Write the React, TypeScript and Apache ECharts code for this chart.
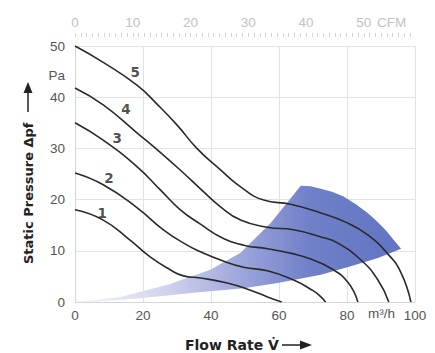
import React, { useEffect, useRef } from "react";
import * as echarts from "echarts";

// Flow rate (m³/h) vs static pressure (Pa) for fan speeds 1..5
const curve1: [number, number][] = [
  [0, 18], [8.3, 16], [16.2, 12.1], [22.1, 8.8], [28, 6.3], [31.9, 5.1], [36.9, 4.7],
  [44.8, 3.7], [51.6, 2.3], [56.6, 1], [60.8, 0],
];
const curve2: [number, number][] = [
  [0, 25.2], [8.3, 22.9], [18.3, 18.4], [26, 14.1], [33, 11.1], [36.9, 9.8], [42.8, 8.2],
  [49.6, 6.8], [56.6, 6.1], [64.3, 4.3], [69.3, 2.5], [71.7, 1.4], [73.7, 0],
];
const curve3: [number, number][] = [
  [0, 35], [8.3, 31.6], [18.3, 26.4], [25.1, 21.9], [31, 18], [36.9, 15.2], [42.8, 12.7],
  [49.6, 11.1], [56.6, 10.4], [64.3, 9.4], [69.3, 8.4], [75.2, 6.6], [80.2, 3.9], [83.2, 0],
];
const curve4: [number, number][] = [
  [0, 41.8], [8.3, 38.5], [18.3, 33], [26, 28.7], [31.9, 25.2], [36.9, 22.1], [42.8, 18.6],
  [48.7, 16], [56.6, 14.6], [64.3, 14.1], [72.3, 12.7], [77.3, 11.5], [84.1, 8.2], [89.1, 4.3], [92.3, 0],
];
const curve5: [number, number][] = [
  [0, 50], [8.3, 46.8], [18.3, 42.3], [24.2, 38.6], [30.1, 34.5], [36, 29.9], [42.8, 25.8],
  [48.7, 22.5], [55.5, 19.9], [63.4, 19.1], [72.3, 17.4], [79.6, 15.6], [86.1, 13.1], [92, 9.4],
  [95.9, 5.7], [98.8, 0],
];
const curves = [curve1, curve2, curve3, curve4, curve5];

// Curve number labels: [flow, pressure, label]
const curveLabels: [number, number, string][] = [
  [8.0, 17.4, "1"], [10.0, 24.2, "2"], [12.4, 32.0, "3"], [15.0, 37.7, "4"], [17.7, 44.9, "5"],
];

// Working range (shaded area) boundary: upper edge, arc, then lower edge back to origin
const rangeUpper: [number, number][] = [
  [0, 0], [13.3, 1], [28, 3.5], [39.8, 6.3], [48.7, 9.6], [57.5, 15.4], [66.4, 22.7],
];
const rangeArc: [number, number][] = [
  [69.3, 22.6], [72.3, 22.1], [75.8, 21.5], [79, 20.6], [82.6, 19.1], [86.1, 17.4],
  [89.1, 15.6], [91.4, 14.0], [93.5, 12.3], [95.9, 10.4],
];
const rangeLower: [number, number][] = [
  [89.1, 8.6], [81.1, 7], [72.3, 5.3], [59.6, 3.7], [49.6, 2.7], [34.8, 1.8], [20.1, 0.8], [5.3, 0],
];
const rangeBoundary = [...rangeUpper, ...rangeArc, ...rangeLower];

const xTicks = { min: 0, max: 100, interval: 20 };
const yTicks = { min: 0, max: 50, interval: 10 };
const M3H_PER_CFM = 1.699;

const NUM_FONT = "Liberation Sans";
const TITLE_FONT = "DejaVu Sans";

export default function App() {
  const ref = useRef<HTMLDivElement>(null);
  useEffect(() => {
    if (!ref.current) return;
    const chart = echarts.init(ref.current, undefined, { renderer: "svg" });
    const fill = new echarts.graphic.LinearGradient(0, 0, 1, 0, [
      { offset: 0, color: "#f6f6fc" },
      { offset: 0.25, color: "#d6d8f0" },
      { offset: 0.42, color: "#b2b8e3" },
      { offset: 0.57, color: "#8f9ad6" },
      { offset: 0.72, color: "#7080c9" },
      { offset: 1, color: "#6174c2" },
    ]);
    const lineSeries = curves.map((c, i) => ({
      type: "line",
      name: String(i + 1),
      data: c,
      smooth: 0.5,
      symbol: "none",
      z: 3,
      lineStyle: { color: "#2a2a2a", width: 1.6 },
    }));
    chart.setOption({
      animation: false,
      backgroundColor: "#ffffff",
      grid: { left: 75, right: 20, top: 46, bottom: 51 },
      xAxis: [
        {
          type: "value",
          position: "bottom",
          ...xTicks,
          axisLine: { show: true, lineStyle: { color: "#d6d6d6", width: 1 } },
          axisTick: { show: false },
          axisLabel: { color: "#555", fontSize: 13.5, fontFamily: NUM_FONT, margin: 6 },
          splitLine: { show: true, lineStyle: { color: "#e2e2e2", width: 1 } },
        },
        {
          type: "value",
          position: "top",
          offset: 9,
          min: 0,
          max: xTicks.max / M3H_PER_CFM,
          interval: 1,
          axisLine: { show: false },
          axisTick: { show: true, length: 4, lineStyle: { color: "#d4d4d4" } },
          axisLabel: {
            interval: 0,
            showMaxLabel: false,
            color: "#c2c2c2",
            fontSize: 13.5,
            fontFamily: NUM_FONT,
            margin: 8,
            formatter: (v: number) => (Math.round(v) % 10 === 0 ? String(Math.round(v)) : ""),
          },
          splitLine: { show: false },
        },
      ],
      yAxis: {
        type: "value",
        ...yTicks,
        axisLine: { show: true, lineStyle: { color: "#d6d6d6", width: 1 } },
        axisTick: { show: false },
        axisLabel: { color: "#555", fontSize: 13.5, fontFamily: NUM_FONT, margin: 10 },
        splitLine: { show: true, lineStyle: { color: "#e2e2e2", width: 1 } },
      },
      series: [
        {
          type: "custom",
          z: 1,
          silent: true,
          data: [rangeBoundary[0]],
          renderItem: (params: any, api: any) => {
            if (params.dataIndex !== 0) return null;
            const pts = rangeBoundary.map((p) => api.coord(p));
            return { type: "polygon", shape: { points: pts }, style: { fill, stroke: "none" } };
          },
        },
        ...lineSeries,
        {
          type: "scatter",
          z: 4,
          symbolSize: 1,
          itemStyle: { color: "rgba(0,0,0,0)" },
          data: curveLabels.map(([x, y, n]) => ({ value: [x, y], name: n })),
          label: {
            show: true,
            position: "inside",
            formatter: "{b}",
            color: "#222",
            fontSize: 13.5,
            fontWeight: "bold",
            fontFamily: TITLE_FONT,
          },
        },
      ],
      graphic: [
        {
          type: "text",
          x: 65,
          y: 75,
          style: { text: "Pa", fill: "#555", font: `13.5px "${NUM_FONT}"`, textAlign: "right", textVerticalAlign: "middle" },
        },
        {
          type: "text",
          x: 368,
          y: 313,
          style: { text: "m³/h", fill: "#555", font: `13.5px "${NUM_FONT}"`, textAlign: "left", textVerticalAlign: "middle" },
        },
        {
          type: "text",
          x: 377,
          y: 22,
          style: { text: "CFM", fill: "#c2c2c2", font: `13.5px "${NUM_FONT}"`, textAlign: "left", textVerticalAlign: "middle" },
        },
        {
          type: "text",
          x: 28,
          y: 264,
          rotation: Math.PI / 2,
          style: {
            text: "Static Pressure Δpf",
            fill: "#222",
            font: `bold 13px "${TITLE_FONT}"`,
            textAlign: "left",
            textVerticalAlign: "middle",
          },
        },
        { type: "line", shape: { x1: 28, y1: 112, x2: 28, y2: 92 }, style: { stroke: "#222", lineWidth: 1.5 } },
        { type: "polygon", shape: { points: [[23.5, 93], [32.5, 93], [28, 82]] }, style: { fill: "#222" } },
        {
          type: "text",
          x: 185,
          y: 345,
          style: {
            text: "Flow Rate V\u0307",
            fill: "#222",
            font: `bold 14px "${TITLE_FONT}"`,
            textAlign: "left",
            textVerticalAlign: "middle",
          },
        },
        { type: "line", shape: { x1: 282, y1: 345, x2: 302, y2: 345 }, style: { stroke: "#222", lineWidth: 1.5 } },
        { type: "polygon", shape: { points: [[300, 340.5], [300, 349.5], [312, 345]] }, style: { fill: "#222" } },
      ],
    });
    return () => chart.dispose();
  }, []);
  return (
    <div
      ref={ref}
      style={{ position: "absolute", left: 0, top: 0, width: 435, height: 353 }}
    />
  );
}
